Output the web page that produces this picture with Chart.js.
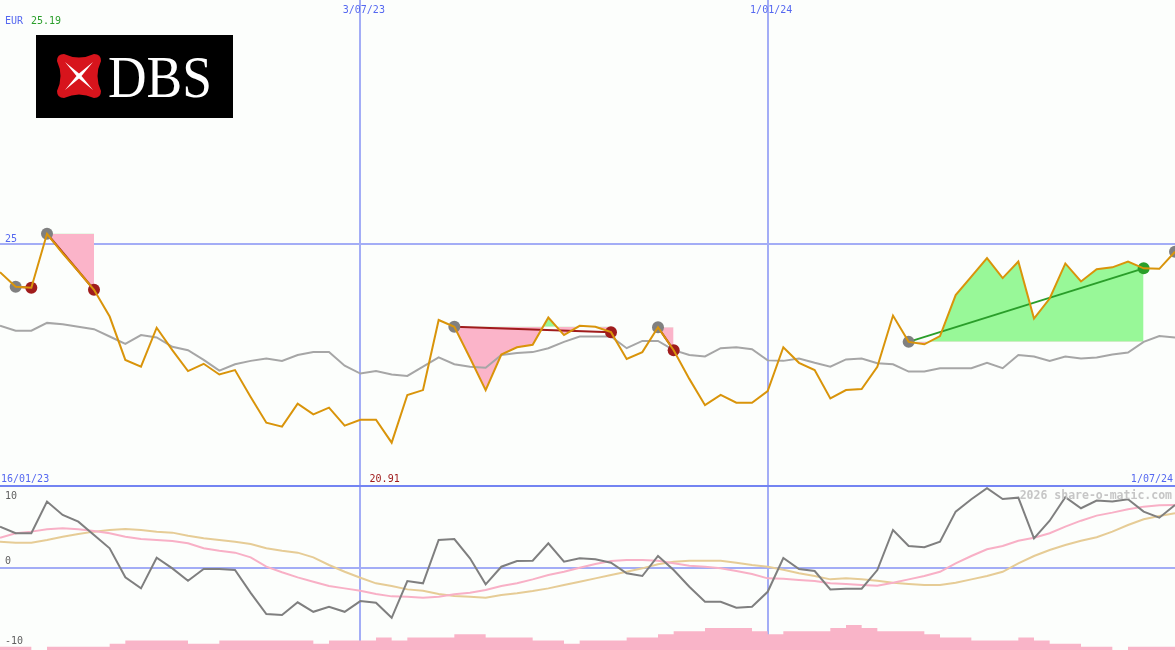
<!DOCTYPE html>
<html>
<head>
<meta charset="utf-8">
<title>DBS</title>
<script src="https://cdn.jsdelivr.net/npm/chart.js@4.4.1/dist/chart.umd.min.js"></script>
<style>
  body { margin: 0; background: #fcfefc; width: 1175px; height: 650px; overflow: hidden; position: relative; }
  #top { position: absolute; left: 0; top: 0; }
  #bottom { position: absolute; left: 0; top: 487px; }
  #sep { position: absolute; left: 0; top: 485px; width: 1175px; height: 2px; background: #7384f2; }
  #logo { position: absolute; left: 36px; top: 35px; }
</style>
</head>
<body>
<canvas id="top" width="1175" height="487"></canvas>
<div id="sep"></div>
<canvas id="bottom" width="1175" height="163"></canvas>
<svg id="logo" width="197" height="83" viewBox="0 0 197 83">
  <rect width="197" height="83" fill="#000"/>
  <g transform="translate(20,18)">
    <path d="M8,1 Q23,8 38,1 Q45,1 45,8 Q38,23 45,38 Q45,45 38,45 Q23,38 8,45 Q1,45 1,38 Q8,23 1,8 Q1,1 8,1 Z" fill="#d7141c"/>
    <path d="M9,9 L23,20.5 L37,9 L25.5,23 L37,37 L23,25.5 L9,37 L20.5,23 Z" fill="#fff"/>
  </g>
  <text x="72" y="62" font-family="Liberation Serif, serif" font-size="60" fill="#fff" textLength="104" lengthAdjust="spacingAndGlyphs">DBS</text>
</svg>
<script>
// weekly closes, EUR
var price = [24.41,24.11,24.09,25.20,24.80,24.43,24.05,23.50,22.61,22.47,
  23.27,22.81,22.38,22.53,22.31,22.40,21.85,21.32,21.24,21.71,
  21.49,21.63,21.26,21.38,21.38,20.91,21.89,21.99,23.43,23.29,
  22.65,21.99,22.72,22.87,22.92,23.48,23.12,23.31,23.29,23.18,
  22.63,22.77,23.28,22.81,22.22,21.68,21.89,21.73,21.73,21.97,
  22.87,22.55,22.40,21.82,21.99,22.01,22.47,23.52,22.98,22.93,
  23.10,23.94,24.32,24.70,24.29,24.63,23.46,23.87,24.59,24.22,
  24.47,24.51,24.63,24.49,24.48,24.83];

// grey average line in the price panel
var average = [23.31,23.21,23.21,23.37,23.34,23.29,23.24,23.09,22.94,23.12,
  23.07,22.88,22.81,22.61,22.39,22.52,22.59,22.64,22.59,22.71,
  22.77,22.77,22.49,22.33,22.38,22.31,22.28,22.47,22.66,22.52,
  22.47,22.45,22.71,22.75,22.77,22.85,22.98,23.09,23.09,23.09,
  22.85,23.00,23.00,22.81,22.71,22.68,22.85,22.87,22.83,22.60,
  22.59,22.64,22.55,22.47,22.62,22.64,22.54,22.52,22.37,22.37,
  22.44,22.44,22.44,22.55,22.44,22.71,22.68,22.59,22.68,22.64,
  22.66,22.72,22.76,22.98,23.10,23.07];

// lower panel
var oscillator = [5.29,4.44,4.44,8.52,6.80,5.94,4.22,2.50,-1.24,-2.66,
  1.29,-0.08,-1.68,-0.17,-0.17,-0.30,-3.23,-5.97,-6.10,-4.46,
  -5.68,-5.03,-5.68,-4.30,-4.52,-6.45,-1.72,-2.01,3.57,3.70,
  1.21,-2.14,0.13,0.86,0.90,3.15,0.77,1.21,1.08,0.65,
  -0.72,-1.07,1.51,-0.30,-2.45,-4.39,-4.39,-5.16,-5.03,-3.10,
  1.25,-0.17,-0.43,-2.79,-2.71,-2.71,-0.30,4.86,2.80,2.63,
  3.35,7.23,8.83,10.25,8.86,9.03,3.79,6.06,9.08,7.66,
  8.65,8.52,8.83,7.23,6.45,8.09];

var oscFast = [3.87,4.44,4.65,4.95,5.08,4.95,4.74,4.44,4.00,3.70,
  3.57,3.45,3.15,2.50,2.19,1.94,1.34,0.13,-0.59,-1.24,
  -1.81,-2.36,-2.66,-2.97,-3.39,-3.69,-3.74,-3.87,-3.74,-3.43,
  -3.23,-2.88,-2.36,-2.01,-1.50,-0.94,-0.52,0,0.48,0.86,
  0.99,0.99,0.90,0.57,0.26,0.13,-0.08,-0.43,-0.81,-1.37,
  -1.42,-1.59,-1.72,-2.01,-2.10,-2.23,-2.32,-1.94,-1.50,-1.07,
  -0.52,0.57,1.51,2.37,2.80,3.48,3.87,4.44,5.29,6.06,
  6.71,7.10,7.54,7.87,8.05,8.09];

var oscSlow = [3.35,3.23,3.23,3.57,4.00,4.35,4.65,4.86,4.99,4.86,
  4.65,4.52,4.13,3.79,3.57,3.35,3.06,2.50,2.19,1.94,
  1.34,0.35,-0.52,-1.29,-2.01,-2.36,-2.79,-2.97,-3.39,-3.65,
  -3.74,-3.87,-3.52,-3.30,-3.01,-2.66,-2.23,-1.81,-1.37,-0.94,
  -0.52,-0.08,0.44,0.77,0.90,0.90,0.90,0.65,0.35,0.13,
  -0.26,-0.72,-1.07,-1.50,-1.37,-1.50,-1.68,-1.94,-2.10,-2.23,
  -2.23,-1.94,-1.50,-1.07,-0.52,0.57,1.51,2.28,2.93,3.48,
  3.92,4.65,5.51,6.25,6.67,7.02];

var volume = [1,1,0,1,1,1,1,2,3,3, 3,3,2,2,3,3,3,3,3,3,
  2,3,3,3,4,3,4,4,4,5, 5,4,4,4,3,3,2,3,3,3,
  4,4,5,6,6,7,7,7,6,5, 6,6,6,7,8,7,6,6,6,5,
  4,4,3,3,3,4,3,2,2,1, 1,0,1,1,1,1];

// trades: week index of buy and sell
var tradeOpen  = [1, 3, 29, 42, 58];
var tradeClose = [2, 6, 39, 43, 73];
var openNow = 75;

var markDates = ["3/07/23", "1/01/24"];
var firstLabel = "16/01/23";
var lastLabel = "1/07/24";
var currency = "EUR";
var lastQuote = "25.19";

// week labels
var dates = [];
for (var i = 0; i < price.length; i++) {
  var d = new Date(2023, 0, 23 + 7 * i);
  dates.push(d.getDate() + "/" + String(d.getMonth() + 1).padStart(2, "0") + "/" + String(d.getFullYear()).slice(2));
}

var orange = "#d9940a";
var red = "#a01c1c";
var green = "#2a9e2a";
var grey = "#808080";
var gridBlue = "#a3adf6";
var textBlue = "#5568f0";
var mono = '"DejaVu Sans Mono", monospace';
var none = "rgba(0,0,0,0)";

function blank() { return dates.map(function () { return null; }); }

var xGrid = {
  display: true,
  border: { display: false },
  ticks: { display: false, autoSkip: false },
  grid: {
    drawTicks: false,
    lineWidth: 2,
    color: function (c) { return c.tick && markDates.indexOf(dates[c.tick.value]) >= 0 ? gridBlue : none; }
  }
};

// price panel datasets, first one is drawn on top
var topSets = [];
topSets.push({ data: price, borderColor: orange, borderWidth: 2, pointRadius: 0 });

var exits = blank(), exitColors = blank();
tradeClose.forEach(function (c, k) {
  exits[c] = price[c];
  exitColors[c] = price[c] >= price[tradeOpen[k]] ? green : red;
});
topSets.push({ data: exits, showLine: false, pointRadius: 6, pointBorderWidth: 0, pointBackgroundColor: exitColors });

var entries = blank();
tradeOpen.concat([openNow]).forEach(function (o) { entries[o] = price[o]; });
topSets.push({ data: entries, showLine: false, pointRadius: 6, pointBorderWidth: 0, pointBackgroundColor: grey });

tradeOpen.forEach(function (o, k) {
  var c = tradeClose[k];
  var d = blank();
  d[o] = price[o];
  d[c] = price[c];
  topSets.push({ data: d, spanGaps: true, borderColor: price[c] >= price[o] ? green : red, borderWidth: 2, pointRadius: 0 });
});

topSets.push({ data: average, borderColor: "#a6a6a6", borderWidth: 2, pointRadius: 0 });

tradeOpen.forEach(function (o, k) {
  var c = tradeClose[k];
  var seg = blank(), level = blank();
  for (var i = o; i <= c; i++) { seg[i] = price[i]; level[i] = price[o]; }
  var levelIndex = topSets.length + 1;
  topSets.push({ data: seg, borderColor: none, borderWidth: 0, pointRadius: 0,
    fill: { target: levelIndex, above: "#98f898", below: "#fbb4c9" } });
  topSets.push({ data: level, borderColor: none, borderWidth: 0, pointRadius: 0 });
});

var topText = {
  id: "topText",
  afterDraw: function (chart) {
    var ctx = chart.ctx, x = chart.scales.x, y = chart.scales.y;
    ctx.save();
    ctx.font = "10px " + mono;
    ctx.textBaseline = "alphabetic";
    ctx.textAlign = "left";
    ctx.fillStyle = textBlue;
    ctx.fillText(currency, 5, 24);
    ctx.fillStyle = "#2a9e2a";
    ctx.fillText(lastQuote, 31, 24);
    ctx.fillStyle = textBlue;
    ctx.fillText("25", 5, y.getPixelForValue(25) - 2);
    ctx.fillText(firstLabel, 1, 482);
    ctx.textAlign = "center";
    markDates.forEach(function (m) {
      ctx.fillText(m, x.getPixelForValue(dates.indexOf(m)) + 3.5, 13);
    });
    ctx.textAlign = "right";
    ctx.fillText(lastLabel, 1173, 482);
    var low = price.indexOf(Math.min.apply(null, price));
    ctx.fillStyle = red;
    ctx.fillText(price[low].toFixed(2), x.getPixelForValue(low) + 8, 482);
    ctx.restore();
  }
};

new Chart(document.getElementById("top"), {
  type: "line",
  data: { labels: dates, datasets: topSets },
  options: {
    responsive: false, animation: false, devicePixelRatio: 1, events: [],
    layout: { padding: 0, autoPadding: false },
    plugins: { legend: { display: false }, tooltip: { enabled: false } },
    scales: {
      x: xGrid,
      y: {
        min: 20, max: 30,
        border: { display: false },
        ticks: { display: false, stepSize: 5 },
        grid: {
          drawTicks: false, lineWidth: 2,
          color: function (c) { return c.tick && c.tick.value == 25 ? gridBlue : none; }
        }
      }
    }
  },
  plugins: [topText]
});

var bottomText = {
  id: "bottomText",
  afterDraw: function (chart) {
    var ctx = chart.ctx, y = chart.scales.y;
    ctx.save();
    ctx.font = "10px " + mono;
    ctx.fillStyle = "#606060";
    ctx.textAlign = "left";
    ctx.textBaseline = "middle";
    ctx.fillText("10", 5, y.getPixelForValue(10) + 6);
    ctx.fillText("0", 5, y.getPixelForValue(0) - 6);
    ctx.fillText("-10", 5, y.getPixelForValue(-10) - 4);
    ctx.font = "bold 11.5px " + mono;
    ctx.fillStyle = "#c6c6c6";
    ctx.textAlign = "right";
    ctx.fillText("2026 share-o-matic.com", 1172, 9);
    ctx.restore();
  }
};

new Chart(document.getElementById("bottom"), {
  type: "line",
  data: {
    labels: dates,
    datasets: [
      { data: oscillator, borderColor: "#7f7f7f", borderWidth: 2, pointRadius: 0 },
      { data: oscFast, borderColor: "#f8b0c6", borderWidth: 2, pointRadius: 0 },
      { data: oscSlow, borderColor: "#e6cc96", borderWidth: 2, pointRadius: 0 },
      { data: volume, yAxisID: "vol", stepped: true, borderColor: none, borderWidth: 0, pointRadius: 0,
        backgroundColor: "#f9b4c8", fill: "origin" }
    ]
  },
  options: {
    responsive: false, animation: false, devicePixelRatio: 1, events: [],
    layout: { padding: 0, autoPadding: false },
    plugins: { legend: { display: false }, tooltip: { enabled: false } },
    scales: {
      x: xGrid,
      y: {
        min: -10.6, max: 10.4,
        border: { display: false },
        ticks: { display: false, stepSize: 5 },
        grid: {
          drawTicks: false, lineWidth: 2,
          color: function (c) { return c.tick && c.tick.value == 0 ? gridBlue : none; }
        }
      },
      vol: { display: false, min: 0, max: 52 }
    }
  },
  plugins: [bottomText]
});
</script>
</body>
</html>
